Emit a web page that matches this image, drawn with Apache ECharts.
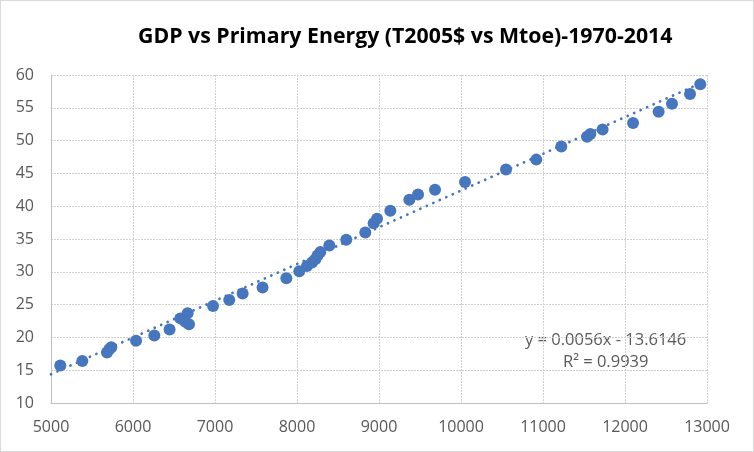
<!DOCTYPE html>
<html><head><meta charset="utf-8">
<script src="https://cdn.jsdelivr.net/npm/echarts@6/dist/echarts.min.js"></script>
<style>html,body{margin:0;padding:0;background:#fff}#c{width:752px;height:450px;border:1px solid #d9d9d9}</style>
</head><body><div id="c"></div>
<script>
const title = 'GDP vs Primary Energy (T2005$ vs Mtoe)-1970-2014';
const energyMtoe = [5113,5382,5683,5711,5735,6037,6260,6446,6577,6666,6638,6683,6976,7174,7337,7580,7870,8028,8122,8183,8223,8251,8284,8394,8601,8833,8935,8976,9138,9370,9476,9683,10049,10549,10918,11223,11537,11577,11727,12098,12410,12573,12793,12918];
const gdpT2005 = [15.7,16.4,17.7,18.2,18.5,19.5,20.3,21.2,22.9,23.7,22.4,22.0,24.8,25.7,26.7,27.6,29.0,30.1,30.9,31.4,31.9,32.5,33.0,34.0,34.9,36.0,37.4,38.1,39.3,41.0,41.8,42.5,43.7,45.6,47.1,49.1,50.6,51.0,51.7,52.7,54.4,55.6,57.1,58.6];
const trendSlope = 0.0056, trendIntercept = -13.6146, trendR2 = 0.9939;
const trendEquation = 'y = 0.0056x - 13.6146';
const trendRange = [5000, 12950];
const xTicks = [5000, 13000, 1000];
const yTicks = [10, 60, 5];

const points = energyMtoe.map((x, i) => [x, gdpT2005[i]]);
const trend = trendRange.map(x => [x, trendSlope * x + trendIntercept]);
const blue = '#4677be';
const chart = echarts.init(document.getElementById('c'));
chart.setOption({
  animation: false,
  title: { text: title, left: 132, top: 20,
    textStyle: { fontFamily: 'Open Sans', fontWeight: 'bold', fontSize: 21.3, color: '#000' } },
  grid: { left: 50, right: 46, top: 74, bottom: 48 },
  xAxis: { type: 'value', min: xTicks[0], max: xTicks[1], interval: xTicks[2],
    axisLine: { lineStyle: { color: '#bfbfbf' } }, axisTick: { show: false },
    axisLabel: { color: '#595959', fontSize: 16, fontFamily: 'Open Sans', margin: 16, formatter: v => String(v) },
    splitLine: { lineStyle: { color: '#d0d0d0', type: [2, 1] } } },
  yAxis: { type: 'value', min: yTicks[0], max: yTicks[1], interval: yTicks[2],
    axisLine: { show: true, lineStyle: { color: '#bfbfbf' } }, axisTick: { show: false },
    axisLabel: { color: '#595959', fontSize: 16, fontFamily: 'Open Sans', margin: 17 },
    splitLine: { lineStyle: { color: '#d0d0d0', type: [2, 1] } } },
  graphic: [
    { type: 'text', left: 524, top: 331, style: { text: trendEquation, fill: '#595959', font: '16.5px "Open Sans"' } },
    { type: 'text', left: 562, top: 353, style: { text: 'R\u00b2 = ' + trendR2, fill: '#595959', font: '16.5px "Open Sans"' } }
  ],
  series: [
    { type: 'line', data: trend, showSymbol: false, z: 1,
      lineStyle: { color: blue, width: 2.7, type: [0.1, 7], cap: 'round' } },
    { type: 'scatter', data: points, symbolSize: 12, z: 2, itemStyle: { color: blue, opacity: 1 } }
  ]
});
</script></body></html>
